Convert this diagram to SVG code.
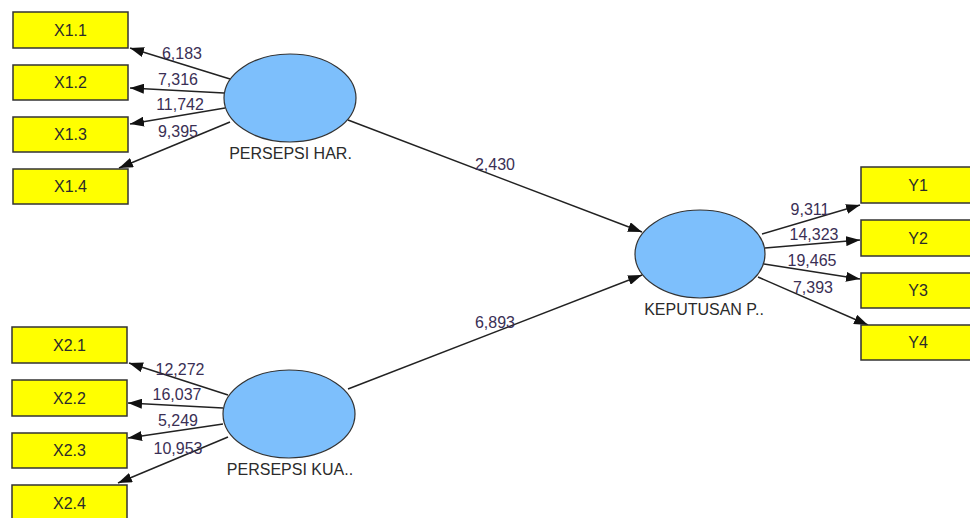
<svg xmlns="http://www.w3.org/2000/svg" width="970" height="518" viewBox="0 0 970 518">
<style>
.box{fill:#ffff00;stroke:#333;stroke-width:1.5}
.lv{fill:#7dbffc;stroke:#333;stroke-width:1.2}
.t{font-family:"Liberation Sans",Arial,sans-serif;font-size:16px;fill:#2b2b2b;text-anchor:middle}
.n{font-family:"Liberation Sans",Arial,sans-serif;font-size:16px;fill:#3a2f55;text-anchor:middle}
.e{stroke:#222;stroke-width:1.5;fill:none;marker-end:url(#ah)}
</style>
<defs>
<marker id="ah" markerUnits="userSpaceOnUse" markerWidth="14" markerHeight="10" refX="14" refY="5" orient="auto">
<path d="M0,0 L14,5 L0,10 Z" fill="#111"/>
</marker>
</defs>
<rect width="970" height="518" fill="#fff"/>
<g id="connectors">
<line class="e" x1="230" y1="79" x2="130" y2="48"/>
<line class="e" x1="224" y1="93" x2="130" y2="88"/>
<line class="e" x1="225" y1="108" x2="130" y2="124"/>
<line class="e" x1="230" y1="122" x2="119" y2="168"/>
<line class="e" x1="228" y1="395" x2="129" y2="363"/>
<line class="e" x1="223" y1="408" x2="128" y2="403"/>
<line class="e" x1="223" y1="424" x2="128" y2="438"/>
<line class="e" x1="228" y1="437" x2="118" y2="483"/>
<line class="e" x1="348" y1="120" x2="642" y2="232"/>
<line class="e" x1="348" y1="389" x2="642" y2="275"/>
<line class="e" x1="762" y1="234" x2="860" y2="205"/>
<line class="e" x1="765" y1="248" x2="860" y2="240"/>
<line class="e" x1="764" y1="264" x2="860" y2="279"/>
<line class="e" x1="758" y1="277" x2="868" y2="325"/>
<text class="n" x="182" y="59">6,183</text>
<text class="n" x="178" y="85">7,316</text>
<text class="n" x="180" y="110">11,742</text>
<text class="n" x="178" y="137">9,395</text>
<text class="n" x="180" y="375">12,272</text>
<text class="n" x="177" y="400">16,037</text>
<text class="n" x="178" y="426">5,249</text>
<text class="n" x="178" y="454">10,953</text>
<text class="n" x="495" y="170">2,430</text>
<text class="n" x="495" y="328">6,893</text>
<text class="n" x="810" y="215">9,311</text>
<text class="n" x="814" y="240">14,323</text>
<text class="n" x="812" y="266">19,465</text>
<text class="n" x="813" y="293">7,393</text>
</g>
<g id="X1.1"><rect class="box" x="13" y="12" width="115" height="36"/><text class="t" x="70.5" y="36">X1.1</text></g>
<g id="X1.2"><rect class="box" x="13" y="65" width="115" height="35"/><text class="t" x="70.5" y="88">X1.2</text></g>
<g id="X1.3"><rect class="box" x="13" y="117" width="115" height="35"/><text class="t" x="70.5" y="140">X1.3</text></g>
<g id="X1.4"><rect class="box" x="13" y="169" width="115" height="35"/><text class="t" x="70.5" y="192">X1.4</text></g>
<g id="X2.1"><rect class="box" x="12" y="327" width="115" height="36"/><text class="t" x="69.5" y="351">X2.1</text></g>
<g id="X2.2"><rect class="box" x="12" y="380" width="115" height="36"/><text class="t" x="69.5" y="404">X2.2</text></g>
<g id="X2.3"><rect class="box" x="12" y="433" width="115" height="35"/><text class="t" x="69.5" y="456">X2.3</text></g>
<g id="X2.4"><rect class="box" x="12" y="485" width="115" height="36"/><text class="t" x="69.5" y="509">X2.4</text></g>
<g id="Y1"><rect class="box" x="861" y="167" width="115" height="36"/><text class="t" x="918" y="191">Y1</text></g>
<g id="Y2"><rect class="box" x="861" y="220" width="115" height="36"/><text class="t" x="918" y="244">Y2</text></g>
<g id="Y3"><rect class="box" x="861" y="273" width="115" height="35"/><text class="t" x="918" y="296">Y3</text></g>
<g id="Y4"><rect class="box" x="861" y="325" width="115" height="35"/><text class="t" x="918" y="348">Y4</text></g>
<g id="PERSEPSI_HAR"><ellipse class="lv" cx="290" cy="98" rx="66" ry="44"/><text class="t" x="290.5" y="159">PERSEPSI HAR.</text></g>
<g id="PERSEPSI_KUA"><ellipse class="lv" cx="289" cy="414" rx="66" ry="44"/><text class="t" x="290" y="475">PERSEPSI KUA..</text></g>
<g id="KEPUTUSAN"><ellipse class="lv" cx="700" cy="254" rx="65" ry="44"/><text class="t" x="704" y="315">KEPUTUSAN P..</text></g>
</svg>
